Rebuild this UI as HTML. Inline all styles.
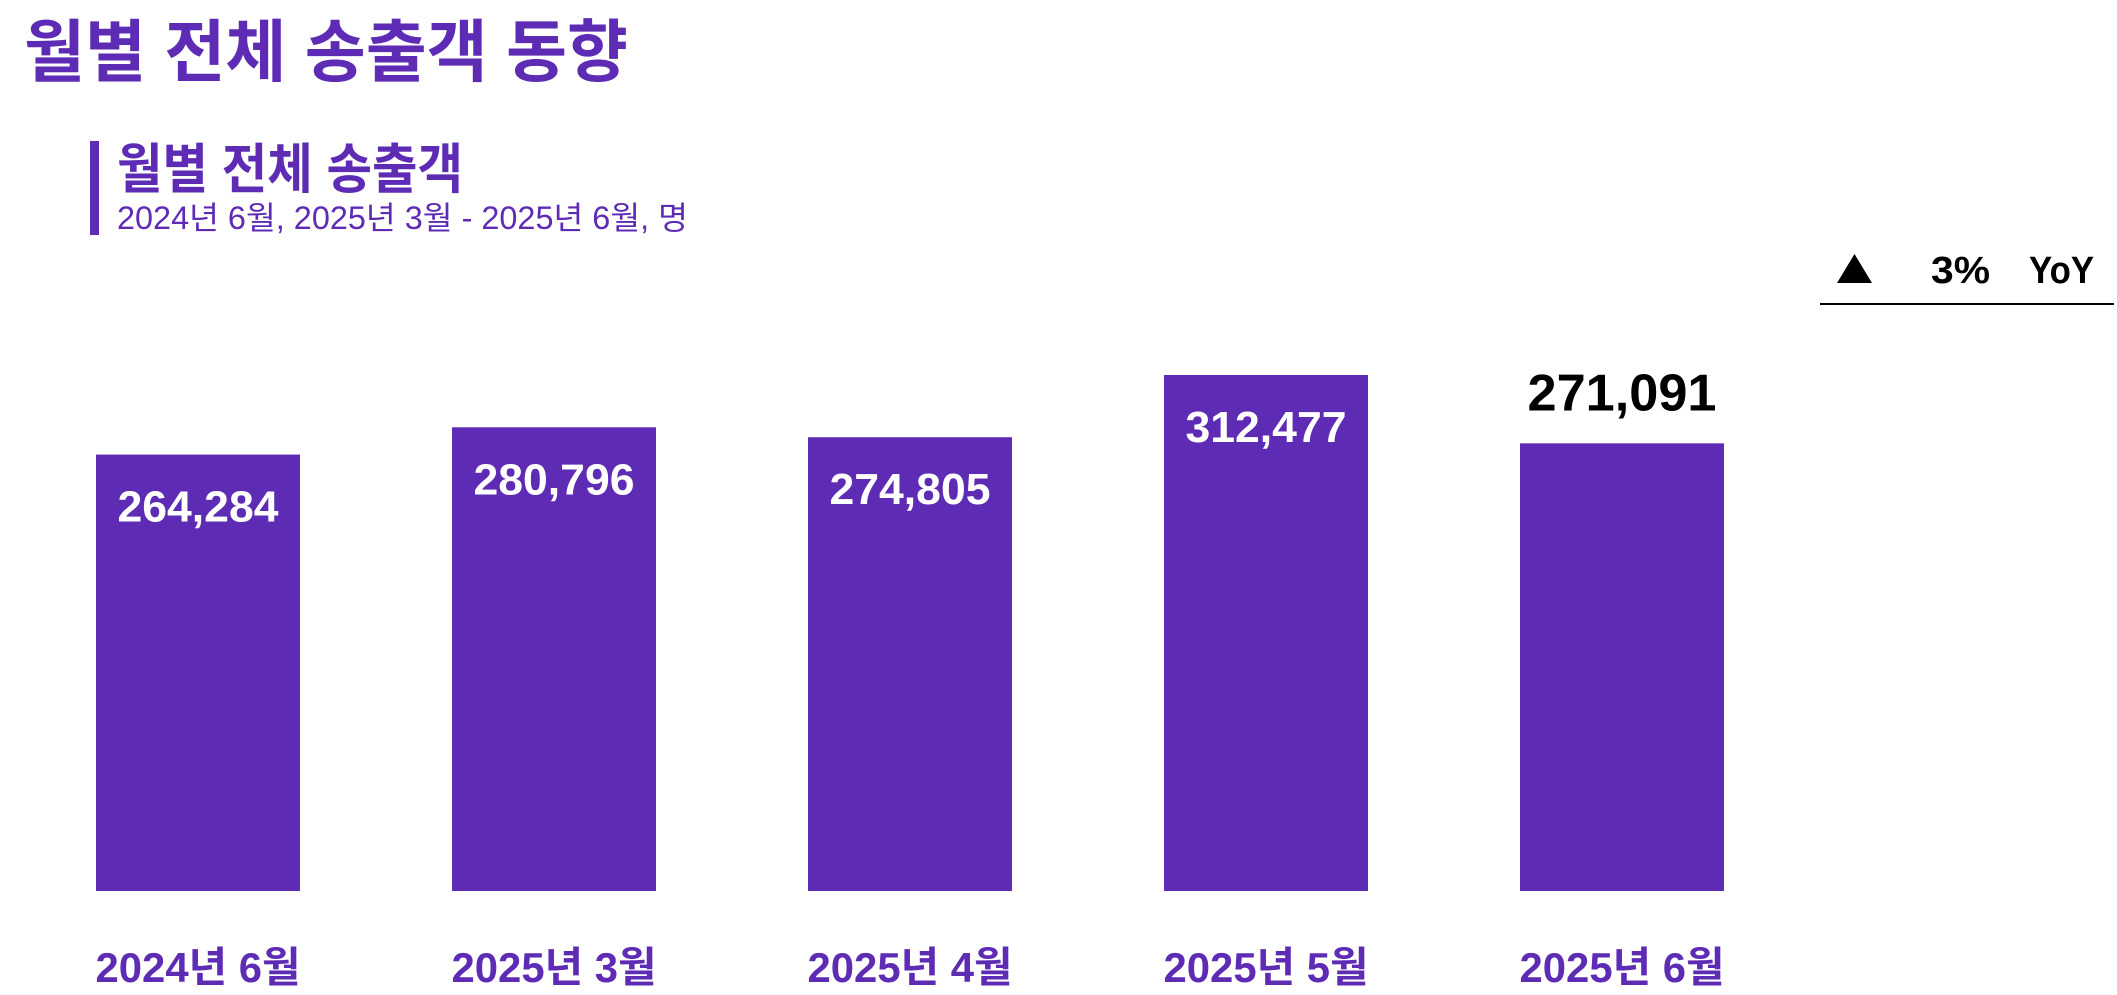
<!DOCTYPE html>
<html><head><meta charset="utf-8"><style>
html,body{margin:0;padding:0;background:#fff;}
svg{display:block;}
text{font-family:"Liberation Sans","Noto Sans CJK KR",sans-serif;}
</style></head><body>
<svg width="2117" height="995" viewBox="0 0 2117 995">
<text x="24" y="76" font-size="68" font-weight="bold" fill="#5E2BB5" textLength="604" lengthAdjust="spacingAndGlyphs">월별 전체 송출객 동향</text>
<rect x="90" y="141" width="9" height="94" fill="#5E2BB5"/>
<text x="117" y="188" font-size="54" font-weight="bold" fill="#5E2BB5" textLength="346" lengthAdjust="spacingAndGlyphs">월별 전체 송출객</text>
<text x="117" y="229" font-size="32" fill="#5E2BB5" textLength="571" lengthAdjust="spacingAndGlyphs">2024년 6월, 2025년 3월 - 2025년 6월, 명</text>
<polygon points="1837,283 1872,283 1854.5,254" fill="#000"/>
<text x="1931" y="283" font-size="38" font-weight="bold" fill="#000" textLength="59" lengthAdjust="spacingAndGlyphs">3%</text>
<text x="2029" y="283" font-size="38" font-weight="bold" fill="#000" textLength="65" lengthAdjust="spacingAndGlyphs">YoY</text>
<rect x="1820" y="303" width="294" height="2" fill="#000"/>
<g id="bars"></g>
</svg>
<script>
const categories = ["2024년 6월","2025년 3월","2025년 4월","2025년 5월","2025년 6월"];
const values = [264284, 280796, 274805, 312477, 271091];
const valueLabels = ["264,284","280,796","274,805","312,477","271,091"];
const NS = "http://www.w3.org/2000/svg";
const g = document.getElementById("bars");
const baseY = 891, maxV = 312477, maxH = 516;
function yScale(v){ return baseY - v / maxV * maxH; }
function xScale(i){ return 96 + i * 356; }
const bw = 204;
categories.forEach((c, i) => {
  const x = xScale(i), y = yScale(values[i]);
  const r = document.createElementNS(NS, "rect");
  r.setAttribute("x", x); r.setAttribute("y", y);
  r.setAttribute("width", bw); r.setAttribute("height", baseY - y);
  r.setAttribute("fill", "#5E2BB5");
  
  
  g.appendChild(r);
  const last = i === categories.length - 1;
  const t = document.createElementNS(NS, "text");
  t.setAttribute("x", x + bw / 2);
  t.setAttribute("y", last ? y - 33 : y + 67);
  t.setAttribute("text-anchor", "middle");
  t.setAttribute("font-size", last ? 52 : 44);
  t.setAttribute("font-weight", "bold");
  t.setAttribute("fill", last ? "#000" : "#fff");
  t.setAttribute("textLength", last ? 189 : 161);
  t.setAttribute("lengthAdjust", "spacingAndGlyphs");
  t.textContent = valueLabels[i];
  
  
  g.appendChild(t);
  const l = document.createElementNS(NS, "text");
  l.setAttribute("x", x + bw / 2);
  l.setAttribute("y", 982);
  l.setAttribute("text-anchor", "middle");
  l.setAttribute("font-size", 42);
  l.setAttribute("font-weight", "bold");
  l.setAttribute("fill", "#5E2BB5");
  l.setAttribute("textLength", 205);
  l.setAttribute("lengthAdjust", "spacingAndGlyphs");
  l.textContent = c;
  
  
  g.appendChild(l);
});
</script>
</body></html>
